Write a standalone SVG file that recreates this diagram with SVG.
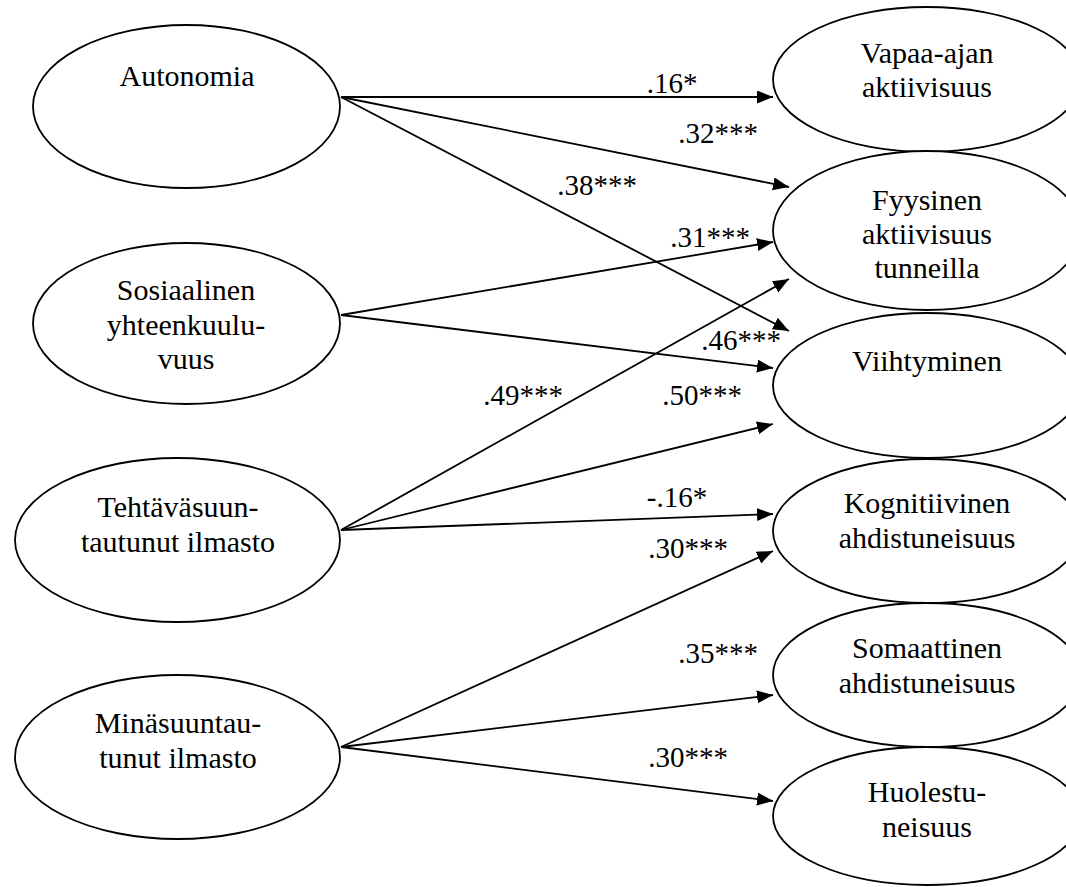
<svg xmlns="http://www.w3.org/2000/svg" width="1066" height="887" viewBox="0 0 1066 887">
<style>
.n ellipse{fill:#fff;stroke:#000;stroke-width:1.8}
.n text{font-family:"Liberation Serif",Times,serif;font-size:30px;fill:#000;text-anchor:middle}
.e line{stroke:#000;stroke-width:1.8;marker-end:url(#ah)}
#labels text{font-family:"Liberation Serif",Times,serif;font-size:29px;fill:#000;text-anchor:middle}
</style>
<defs>
<marker id="ah" markerUnits="userSpaceOnUse" markerWidth="17" markerHeight="14" refX="16" refY="6.5" orient="auto">
<path d="M0,0 L16,6.5 L0,13 z" fill="#000"/>
</marker>
</defs>
<rect width="1066" height="887" fill="#fff"/>
<g id="n-autonomia" class="n"><ellipse cx="186.5" cy="106.5" rx="153.5" ry="81.5"/><text x="187" y="86" font-family="Liberation Serif">Autonomia</text></g>
<g id="n-sosiaalinen" class="n"><ellipse cx="186.5" cy="323.5" rx="153.5" ry="80.5"/><text x="186" y="300">Sosiaalinen</text><text x="186" y="335">yhteenkuulu-</text><text x="186" y="369">vuus</text></g>
<g id="n-tehtava" class="n"><ellipse cx="177.5" cy="540" rx="162.5" ry="82"/><text x="178" y="517">Tehtäväsuun-</text><text x="178" y="552">tautunut ilmasto</text></g>
<g id="n-mina" class="n"><ellipse cx="177.5" cy="757" rx="162.5" ry="82"/><text x="178" y="733">Minäsuuntau-</text><text x="178" y="768">tunut ilmasto</text></g>
<g id="n-vapaa" class="n"><ellipse cx="927" cy="79.5" rx="154" ry="72.5"/><text x="927" y="63">Vapaa-ajan</text><text x="927" y="97">aktiivisuus</text></g>
<g id="n-fyysinen" class="n"><ellipse cx="927" cy="230.5" rx="154" ry="79.5"/><text x="927" y="210">Fyysinen</text><text x="927" y="244">aktiivisuus</text><text x="927" y="278">tunneilla</text></g>
<g id="n-viihtyminen" class="n"><ellipse cx="927" cy="385.5" rx="154" ry="72.5"/><text x="927" y="371">Viihtyminen</text></g>
<g id="n-kognitiivinen" class="n"><ellipse cx="927" cy="531" rx="154" ry="72"/><text x="927" y="513">Kognitiivinen</text><text x="927" y="548">ahdistuneisuus</text></g>
<g id="n-somaattinen" class="n"><ellipse cx="927" cy="675" rx="154" ry="72"/><text x="927" y="658">Somaattinen</text><text x="927" y="693">ahdistuneisuus</text></g>
<g id="n-huolestuneisuus" class="n"><ellipse cx="927" cy="816" rx="154" ry="69"/><text x="927" y="802">Huolestu-</text><text x="927" y="837">neisuus</text></g>
<g id="connectors" class="e">
<line x1="341" y1="97" x2="773" y2="97"/>
<line x1="341" y1="97" x2="789" y2="187"/>
<line x1="341" y1="97" x2="789" y2="331"/>
<line x1="341" y1="315" x2="773" y2="242"/>
<line x1="341" y1="315" x2="773" y2="368"/>
<line x1="341" y1="530" x2="789" y2="279"/>
<line x1="341" y1="530" x2="773" y2="424"/>
<line x1="341" y1="530" x2="773" y2="514"/>
<line x1="341" y1="747" x2="773" y2="551"/>
<line x1="341" y1="747" x2="773" y2="695"/>
<line x1="341" y1="747" x2="773" y2="801"/>
</g>
<g id="labels">
<text x="672" y="93">.16*</text>
<text x="718" y="143">.32***</text>
<text x="597" y="195">.38***</text>
<text x="710" y="247">.31***</text>
<text x="741" y="350">.46***</text>
<text x="523" y="405">.49***</text>
<text x="702" y="405">.50***</text>
<text x="677" y="507">-.16*</text>
<text x="688" y="558">.30***</text>
<text x="718" y="663">.35***</text>
<text x="688" y="767">.30***</text>
</g>
</svg>
